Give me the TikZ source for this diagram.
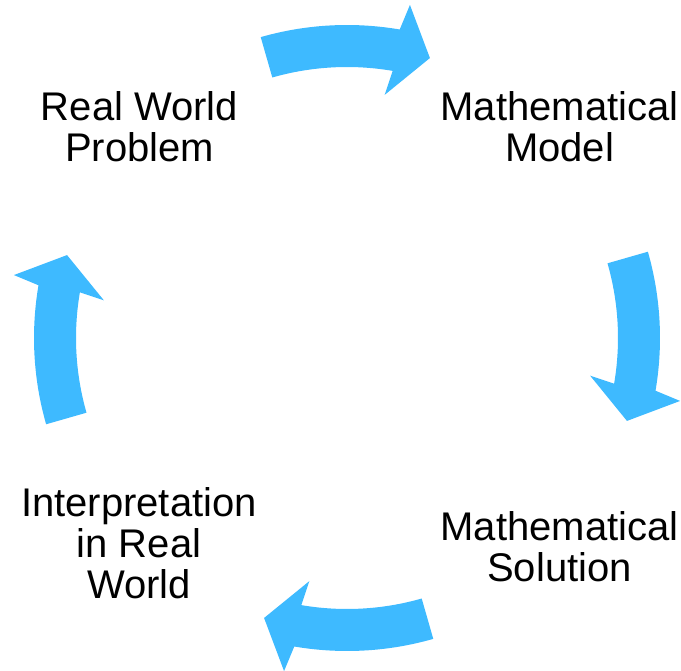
\documentclass[tikz,border=0pt]{standalone}
\usepackage{fontspec}
\setmainfont{Liberation Sans}
\definecolor{arrowblue}{RGB}{62,186,255}
\tikzset{
  lbl/.style={align=center, anchor=base, inner sep=0pt, font=\fontsize{40}{41}\selectfont, text=black},
  cyclearrow/.style={fill=arrowblue, draw=none}
}
\newcommand{\cyclearrowpath}{%
  (106:313) arc[start angle=106, end angle=80.3, radius=313]
  -- (79.3:339) -- (73.5:292) -- (81.2:246) -- (80.3:271)
  arc[start angle=80.3, end angle=106, radius=271] -- cycle}
\begin{document}
\begin{tikzpicture}[x=1pt,y=1pt]
\useasboundingbox (0,0) rectangle (681,-671);
\foreach \k in {0,1,2,3}{
  \begin{scope}[shift={(347,-338)}, rotate=-90*\k]
    \fill[cyclearrow] \cyclearrowpath;
  \end{scope}
}
\node[lbl] (rwp) at (139.5,-162) {Real World\\Problem};
\node[lbl] (mm) at (559.5,-162) {Mathematical\\Model};
\node[lbl] (ms) at (559.5,-581) {Mathematical\\Solution};
\node[lbl] (irw) at (139,-598) {Interpretation\\in Real\\World};
\end{tikzpicture}
\end{document}
